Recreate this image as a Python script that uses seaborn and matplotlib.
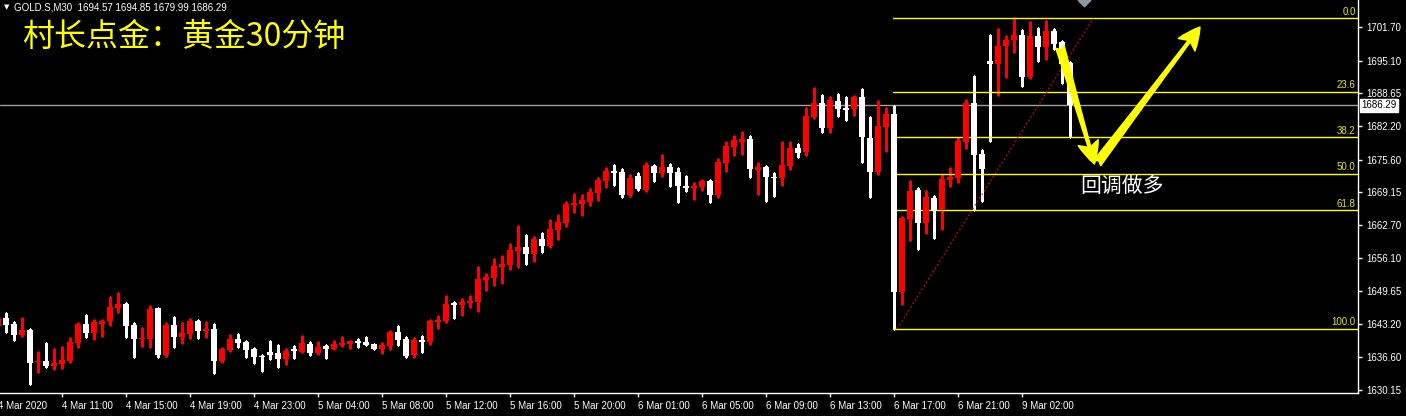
import numpy as np
import pandas as pd
import matplotlib
matplotlib.use('Agg')
import matplotlib.pyplot as plt
import matplotlib.transforms as mtransforms
import seaborn as sns

# ---------------- data (GOLD.S, M30) ----------------
opens = [1642.84, 1644.41, 1643.23, 1641.00, 1641.99, 1635.73, 1635.87, 1634.88, 1635.28, 1635.87,
         1639.42, 1643.23, 1641.40, 1643.17, 1643.76, 1646.33, 1647.12, 1642.97, 1640.27, 1640.21,
         1646.33, 1637.06, 1642.97, 1640.61, 1641.20, 1643.76, 1641.79, 1642.18, 1635.87, 1638.04,
         1640.21, 1639.62, 1638.24, 1636.86, 1637.65, 1637.45, 1636.27, 1638.24, 1637.65, 1639.22,
         1637.45, 1638.83, 1638.24, 1639.03, 1639.22, 1639.82, 1639.62, 1639.22, 1638.24, 1638.83,
         1641.59, 1640.21, 1637.06, 1640.01, 1639.62, 1643.63, 1643.76, 1647.32, 1646.92, 1647.32,
         1647.51, 1651.85, 1652.25, 1654.42, 1654.81, 1657.57, 1658.36, 1656.98, 1659.94, 1658.56,
         1661.72, 1663.10, 1666.65, 1666.84, 1667.24, 1669.01, 1671.38, 1673.35, 1673.16, 1668.62,
         1672.37, 1669.61, 1674.34, 1672.96, 1674.14, 1673.16, 1670.40, 1670.00, 1670.20, 1671.38,
         1668.62, 1674.93, 1678.09, 1679.08, 1679.67, 1673.55, 1674.14, 1672.17, 1671.97, 1674.34,
         1677.89, 1677.10, 1684.01, 1686.77, 1681.84, 1687.16, 1685.78, 1685.59, 1687.95, 1679.87,
         1673.16, 1682.03, 1684.60, 1649.48, 1663.89, 1669.61, 1663.10, 1668.03, 1665.66, 1671.58,
         1671.97, 1679.08, 1686.77, 1676.71, 1695.06, 1694.46, 1698.02, 1699.20, 1700.19, 1691.90,
         1699.99, 1697.82, 1700.97, 1698.80, 1694.57]
highs = [1644.75, 1645.34, 1643.56, 1644.41, 1642.10, 1637.65, 1639.42, 1638.24, 1638.63, 1640.41,
         1643.43, 1644.95, 1644.02, 1644.02, 1648.50, 1649.29, 1647.32, 1643.37, 1642.38, 1646.72,
         1646.40, 1643.37, 1644.55, 1643.37, 1644.16, 1643.90, 1643.56, 1643.17, 1638.44, 1641.00,
         1641.20, 1639.82, 1638.35, 1637.06, 1639.82, 1639.03, 1638.24, 1638.83, 1640.80, 1639.62,
         1639.62, 1639.03, 1639.82, 1640.61, 1639.90, 1640.21, 1640.61, 1639.30, 1639.42, 1641.79,
         1642.78, 1640.61, 1640.41, 1640.80, 1643.96, 1644.75, 1648.69, 1647.51, 1648.10, 1648.69,
         1654.42, 1653.03, 1655.99, 1656.59, 1658.95, 1662.51, 1660.73, 1660.33, 1661.12, 1663.69,
         1664.67, 1667.24, 1668.82, 1668.62, 1669.80, 1671.97, 1673.95, 1674.54, 1673.75, 1672.57,
         1672.96, 1674.93, 1674.45, 1676.51, 1674.74, 1673.95, 1672.37, 1670.99, 1671.58, 1671.50,
         1675.72, 1679.08, 1680.26, 1681.05, 1680.26, 1674.93, 1674.25, 1672.96, 1679.08, 1679.08,
         1678.68, 1685.78, 1689.73, 1688.35, 1687.95, 1688.55, 1687.95, 1688.15, 1689.53, 1684.01,
         1687.16, 1685.78, 1686.18, 1664.28, 1671.38, 1670.00, 1669.41, 1668.42, 1672.57, 1673.95,
         1679.87, 1687.36, 1692.10, 1677.50, 1700.19, 1701.37, 1699.99, 1703.45, 1701.17, 1702.75,
         1701.57, 1702.95, 1701.37, 1699.00, 1694.85]
lows = [1642.58, 1641.65, 1640.01, 1640.80, 1631.33, 1633.70, 1634.69, 1634.29, 1634.49, 1635.68,
        1638.63, 1640.67, 1640.21, 1640.86, 1643.03, 1645.54, 1640.67, 1636.66, 1638.83, 1638.63,
        1636.66, 1636.86, 1638.63, 1639.42, 1640.41, 1640.41, 1640.61, 1633.50, 1635.68, 1637.85,
        1638.63, 1636.66, 1635.48, 1633.90, 1636.27, 1634.69, 1635.28, 1636.46, 1637.55, 1637.06,
        1637.25, 1636.46, 1638.15, 1638.83, 1638.44, 1638.63, 1639.03, 1638.20, 1637.45, 1638.24,
        1639.03, 1636.66, 1636.66, 1637.65, 1639.22, 1642.38, 1643.56, 1644.36, 1644.95, 1646.52,
        1645.74, 1649.88, 1650.86, 1651.26, 1654.02, 1654.42, 1655.01, 1655.60, 1657.37, 1658.36,
        1659.94, 1662.51, 1665.27, 1664.67, 1666.65, 1667.63, 1670.20, 1670.59, 1668.23, 1668.50,
        1669.61, 1669.50, 1671.38, 1672.37, 1670.40, 1667.24, 1669.41, 1667.83, 1669.61, 1667.24,
        1668.23, 1673.35, 1676.51, 1676.71, 1672.17, 1668.82, 1667.44, 1668.42, 1670.59, 1673.75,
        1676.12, 1676.51, 1683.81, 1681.05, 1681.05, 1684.21, 1683.42, 1684.40, 1675.13, 1668.23,
        1672.76, 1677.30, 1642.25, 1647.12, 1659.74, 1657.97, 1661.12, 1660.14, 1661.91, 1670.40,
        1671.18, 1677.89, 1665.66, 1667.44, 1679.27, 1688.35, 1691.90, 1696.83, 1690.12, 1691.80,
        1695.06, 1695.45, 1697.42, 1690.72, 1679.99]
closes = [1644.41, 1642.97, 1641.00, 1641.99, 1635.48, 1635.93, 1634.88, 1635.48, 1636.07, 1639.62,
          1643.23, 1641.40, 1643.63, 1643.76, 1646.52, 1647.12, 1642.84, 1640.21, 1640.41, 1646.13,
          1637.06, 1642.97, 1640.61, 1641.40, 1643.76, 1641.79, 1642.18, 1635.87, 1638.24, 1640.21,
          1639.42, 1638.04, 1636.66, 1636.72, 1637.06, 1636.27, 1637.85, 1637.85, 1639.42, 1637.45,
          1638.63, 1638.24, 1639.22, 1639.42, 1639.82, 1639.42, 1639.03, 1638.24, 1639.03, 1641.59,
          1640.01, 1636.86, 1640.01, 1639.62, 1643.76, 1643.96, 1647.12, 1646.98, 1647.51, 1647.71,
          1652.05, 1652.44, 1654.61, 1655.01, 1657.77, 1658.36, 1656.98, 1659.94, 1658.56, 1661.91,
          1663.29, 1666.84, 1667.04, 1667.63, 1669.21, 1671.58, 1673.35, 1672.96, 1668.62, 1671.97,
          1669.80, 1674.54, 1672.96, 1674.14, 1672.96, 1670.40, 1670.00, 1670.40, 1671.38, 1668.62,
          1675.13, 1678.29, 1679.47, 1679.67, 1673.75, 1674.14, 1672.17, 1671.97, 1674.54, 1677.89,
          1676.91, 1684.21, 1686.77, 1681.84, 1687.36, 1685.59, 1685.39, 1687.95, 1680.06, 1673.16,
          1682.23, 1684.60, 1649.48, 1664.08, 1669.41, 1663.10, 1668.23, 1665.46, 1671.78, 1672.17,
          1679.27, 1686.77, 1676.51, 1673.75, 1694.46, 1698.02, 1699.20, 1700.19, 1691.90, 1699.99,
          1697.82, 1700.97, 1698.41, 1694.46, 1686.29]

# time axis labels (one every 8 bars)
xtick_bars = [8, 16, 24, 32, 40, 48, 56, 64, 72, 80, 88, 96, 104, 112, 120, 128]
xtick_labels = ['4 Mar 11:00', '4 Mar 15:00', '4 Mar 19:00', '4 Mar 23:00', '5 Mar 04:00',
                '5 Mar 08:00', '5 Mar 12:00', '5 Mar 16:00', '5 Mar 20:00', '6 Mar 01:00',
                '6 Mar 05:00', '6 Mar 09:00', '6 Mar 13:00', '6 Mar 17:00', '6 Mar 21:00',
                '9 Mar 02:00']
first_label = '4 Mar 2020'
ytick_values = [1701.70, 1695.10, 1688.65, 1682.20, 1675.60, 1669.15,
                1662.70, 1656.10, 1649.65, 1643.20, 1636.60, 1630.15]

# fibonacci retracement
fib_low, fib_high = 1642.25, 1703.45
fib_levels = [0.0, 23.6, 38.2, 50.0, 61.8, 100.0]
last_price = 1686.29

# ---------------- styling ----------------
sns.set_theme(style='dark', rc={'axes.facecolor': 'black', 'figure.facecolor': 'black',
                                'axes.edgecolor': 'white', 'text.color': 'white',
                                'xtick.color': 'white', 'ytick.color': 'white'})
plt.rcParams['font.family'] = ['Liberation Sans', 'Noto Sans CJK SC', 'DejaVu Sans']

fig = plt.figure(figsize=(14.06, 4.16), dpi=100)
ax = fig.add_axes([0, 23 / 416, 1358 / 1406, 393 / 416])

bars = np.arange(len(opens))
o = np.array(opens); c = np.array(closes)
side = np.where(c >= o, 'up', 'down')
colors = {'up': '#ff0000', 'down': '#ffffff'}

# wicks
wicks = pd.DataFrame({'bar': np.repeat(bars, 2),
                      'price': np.ravel(np.column_stack([lows, highs])),
                      'side': np.repeat(side, 2)})
sns.lineplot(data=wicks, x='bar', y='price', units='bar', estimator=None, hue='side',
             palette=colors, linewidth=1.0, legend=False, sort=False, ax=ax,
             antialiased=False)

# bodies
body_h = np.maximum(np.abs(c - o), 0.2)
ax.bar(bars, body_h, bottom=np.minimum(o, c), width=0.64,
       color=[colors[s] for s in side], linewidth=0, zorder=3, antialiased=False)

ax.set_xlim(0.25, 170)
ax.set_ylim(1629.56, 1707.09)
ax.set_xlabel('')
ax.set_ylabel('')
ax.grid(False)

# fibonacci lines
x_fib0, x_fib1 = 111.9, 136.9
for lv in fib_levels:
    p = fib_high - lv / 100 * (fib_high - fib_low)
    ax.plot([x_fib0, 170], [p, p], color='#ffff00', lw=1, zorder=2)
    ax.text(169.7, p + 0.25, '%.1f' % lv, color='#e6e600', fontsize=7,
            ha='right', va='bottom', zorder=4)
ax.plot([112.4, x_fib1], [fib_low, fib_high], color='#ff0000', lw=1,
        linestyle=(0, (1, 2)), zorder=2)

# current price line
ax.axhline(last_price, color='#a0a0a0', lw=1, zorder=1)
blend = mtransforms.blended_transform_factory(ax.transAxes, ax.transData)
ax.text(1.0 + 3 / 1358, last_price, '%.2f' % last_price, transform=blend, color='black',
        fontsize=7, ha='left', va='center', clip_on=False, zorder=10,
        bbox=dict(facecolor='white', edgecolor='white', pad=1.0))

# arrows and note
arrow_kw = dict(arrowstyle='fancy,head_length=0.8,head_width=0.75,tail_width=0.32',
                fc='#ffff00', ec='#ffff00', shrinkA=0, shrinkB=0, mutation_scale=20)
ax.annotate('', xy=(137.06, 1674.74), xytext=(132.75, 1697.82), arrowprops=arrow_kw, zorder=6)
ax.annotate('', xy=(150.25, 1701.76), xytext=(137.4, 1674.93), arrowprops=arrow_kw, zorder=6)
ax.text(135.25, 1670.4, '回调做多', color='white', fontsize=15,
        family=['Noto Sans CJK SC'], ha='left', va='center', zorder=6)
ax.scatter([135.75], [1707.09], marker='D', s=40, color='#8c98a4', zorder=6)

# axes
for s in ['left', 'top']:
    ax.spines[s].set_visible(False)
for s in ['right', 'bottom']:
    ax.spines[s].set_color('white')
    ax.spines[s].set_linewidth(1)
ax.yaxis.tick_right()
ax.set_yticks(ytick_values, ['%.2f' % v for v in ytick_values])
ax.set_xticks(xtick_bars, xtick_labels)
for t in ax.get_xticklabels():
    t.set_ha('left')
ax.tick_params(axis='both', colors='white', labelsize=7, length=3, width=1, direction='out')
ax.tick_params(axis='y', right=True, left=False, pad=3)
ax.tick_params(axis='x', bottom=True, pad=3)
xblend = mtransforms.blended_transform_factory(ax.transData, ax.transAxes)
ax.annotate(first_label, xy=(0, 0), xycoords=xblend, xytext=(0, -6), textcoords='offset points',
            color='white', fontsize=7, ha='left', va='top', annotation_clip=False)

# header texts
fig.text(4 / 1406, 1 - 7 / 416, '▼', color='white', fontsize=5, va='center',
         family=['DejaVu Sans'])
fig.text(14 / 1406, 1 - 7 / 416, 'GOLD.S,M30  1694.57 1694.85 1679.99 1686.29', color='white',
         fontsize=7, va='center')
fig.text(22 / 1406, 1 - 37 / 416, '村长点金：黄金30分钟', color='#ffff00', fontsize=23,
         family=['Noto Sans CJK SC', 'DejaVu Sans'], va='center')

plt.savefig('out.png', dpi=100, facecolor='black')
